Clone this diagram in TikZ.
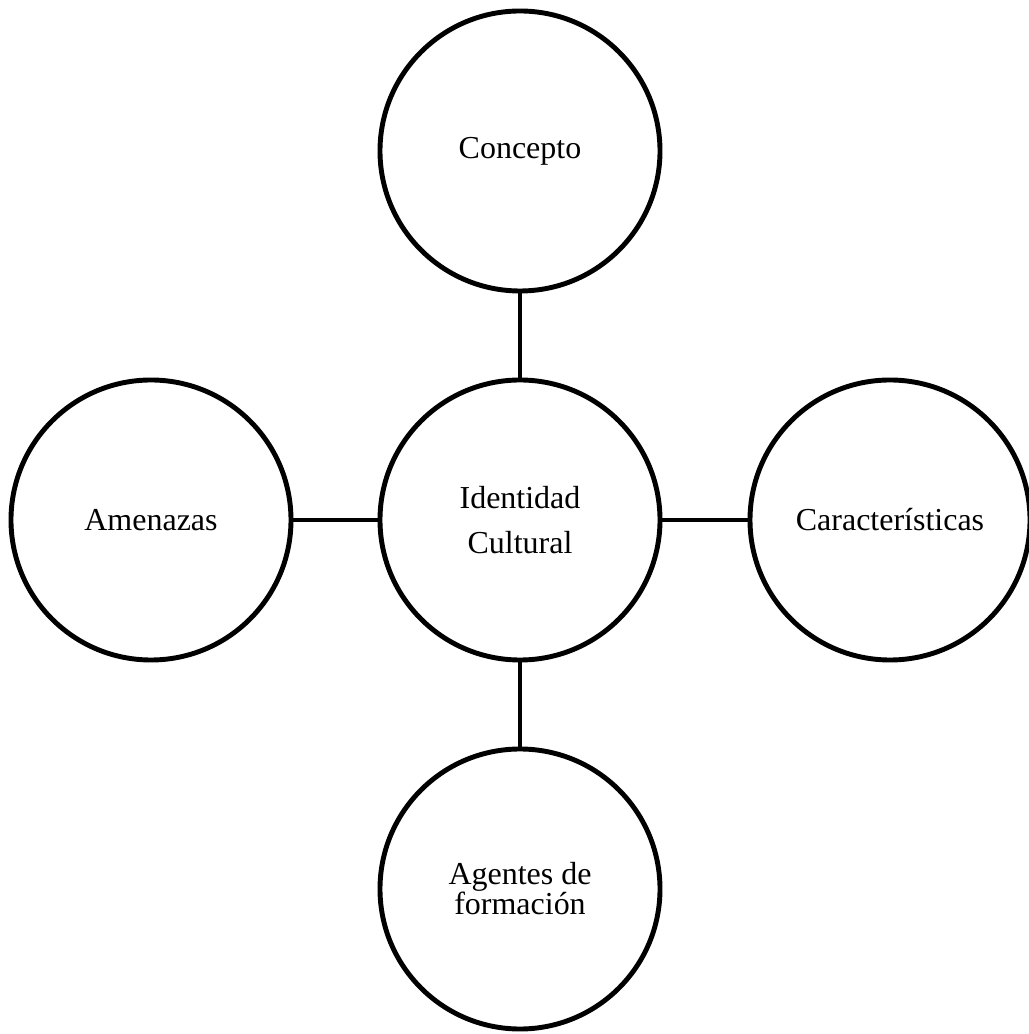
\documentclass[tikz,border=0pt]{standalone}
\usepackage{fontspec}
\setmainfont{Liberation Serif}

\begin{document}
\begin{tikzpicture}[
  topic/.style={draw, circle, line width=2.8pt, minimum size=5.6cm, inner sep=0pt, align=center, font=\fontsize{18.2}{17.1}\selectfont},
  link/.style={line width=2.8pt}]
\useasboundingbox (-10.4,-10.26) rectangle (10.16,10.42);

\node[topic] (ident) at (0,0.02) {Identidad\\[9pt]Cultural};

\node[topic] (concepto) at (0,7.4) {Concepto};
\draw[link] (ident) -- (concepto);

\node[topic] (amenazas) at (-7.38,0.02) {Amenazas};
\draw[link] (ident) -- (amenazas);

\node[topic] (caract) at (7.4,0.02) {Características};
\draw[link] (ident) -- (caract);

\node[topic] (agentes) at (0,-7.36) {Agentes de\\formación};
\draw[link] (ident) -- (agentes);

\end{tikzpicture}
\end{document}
